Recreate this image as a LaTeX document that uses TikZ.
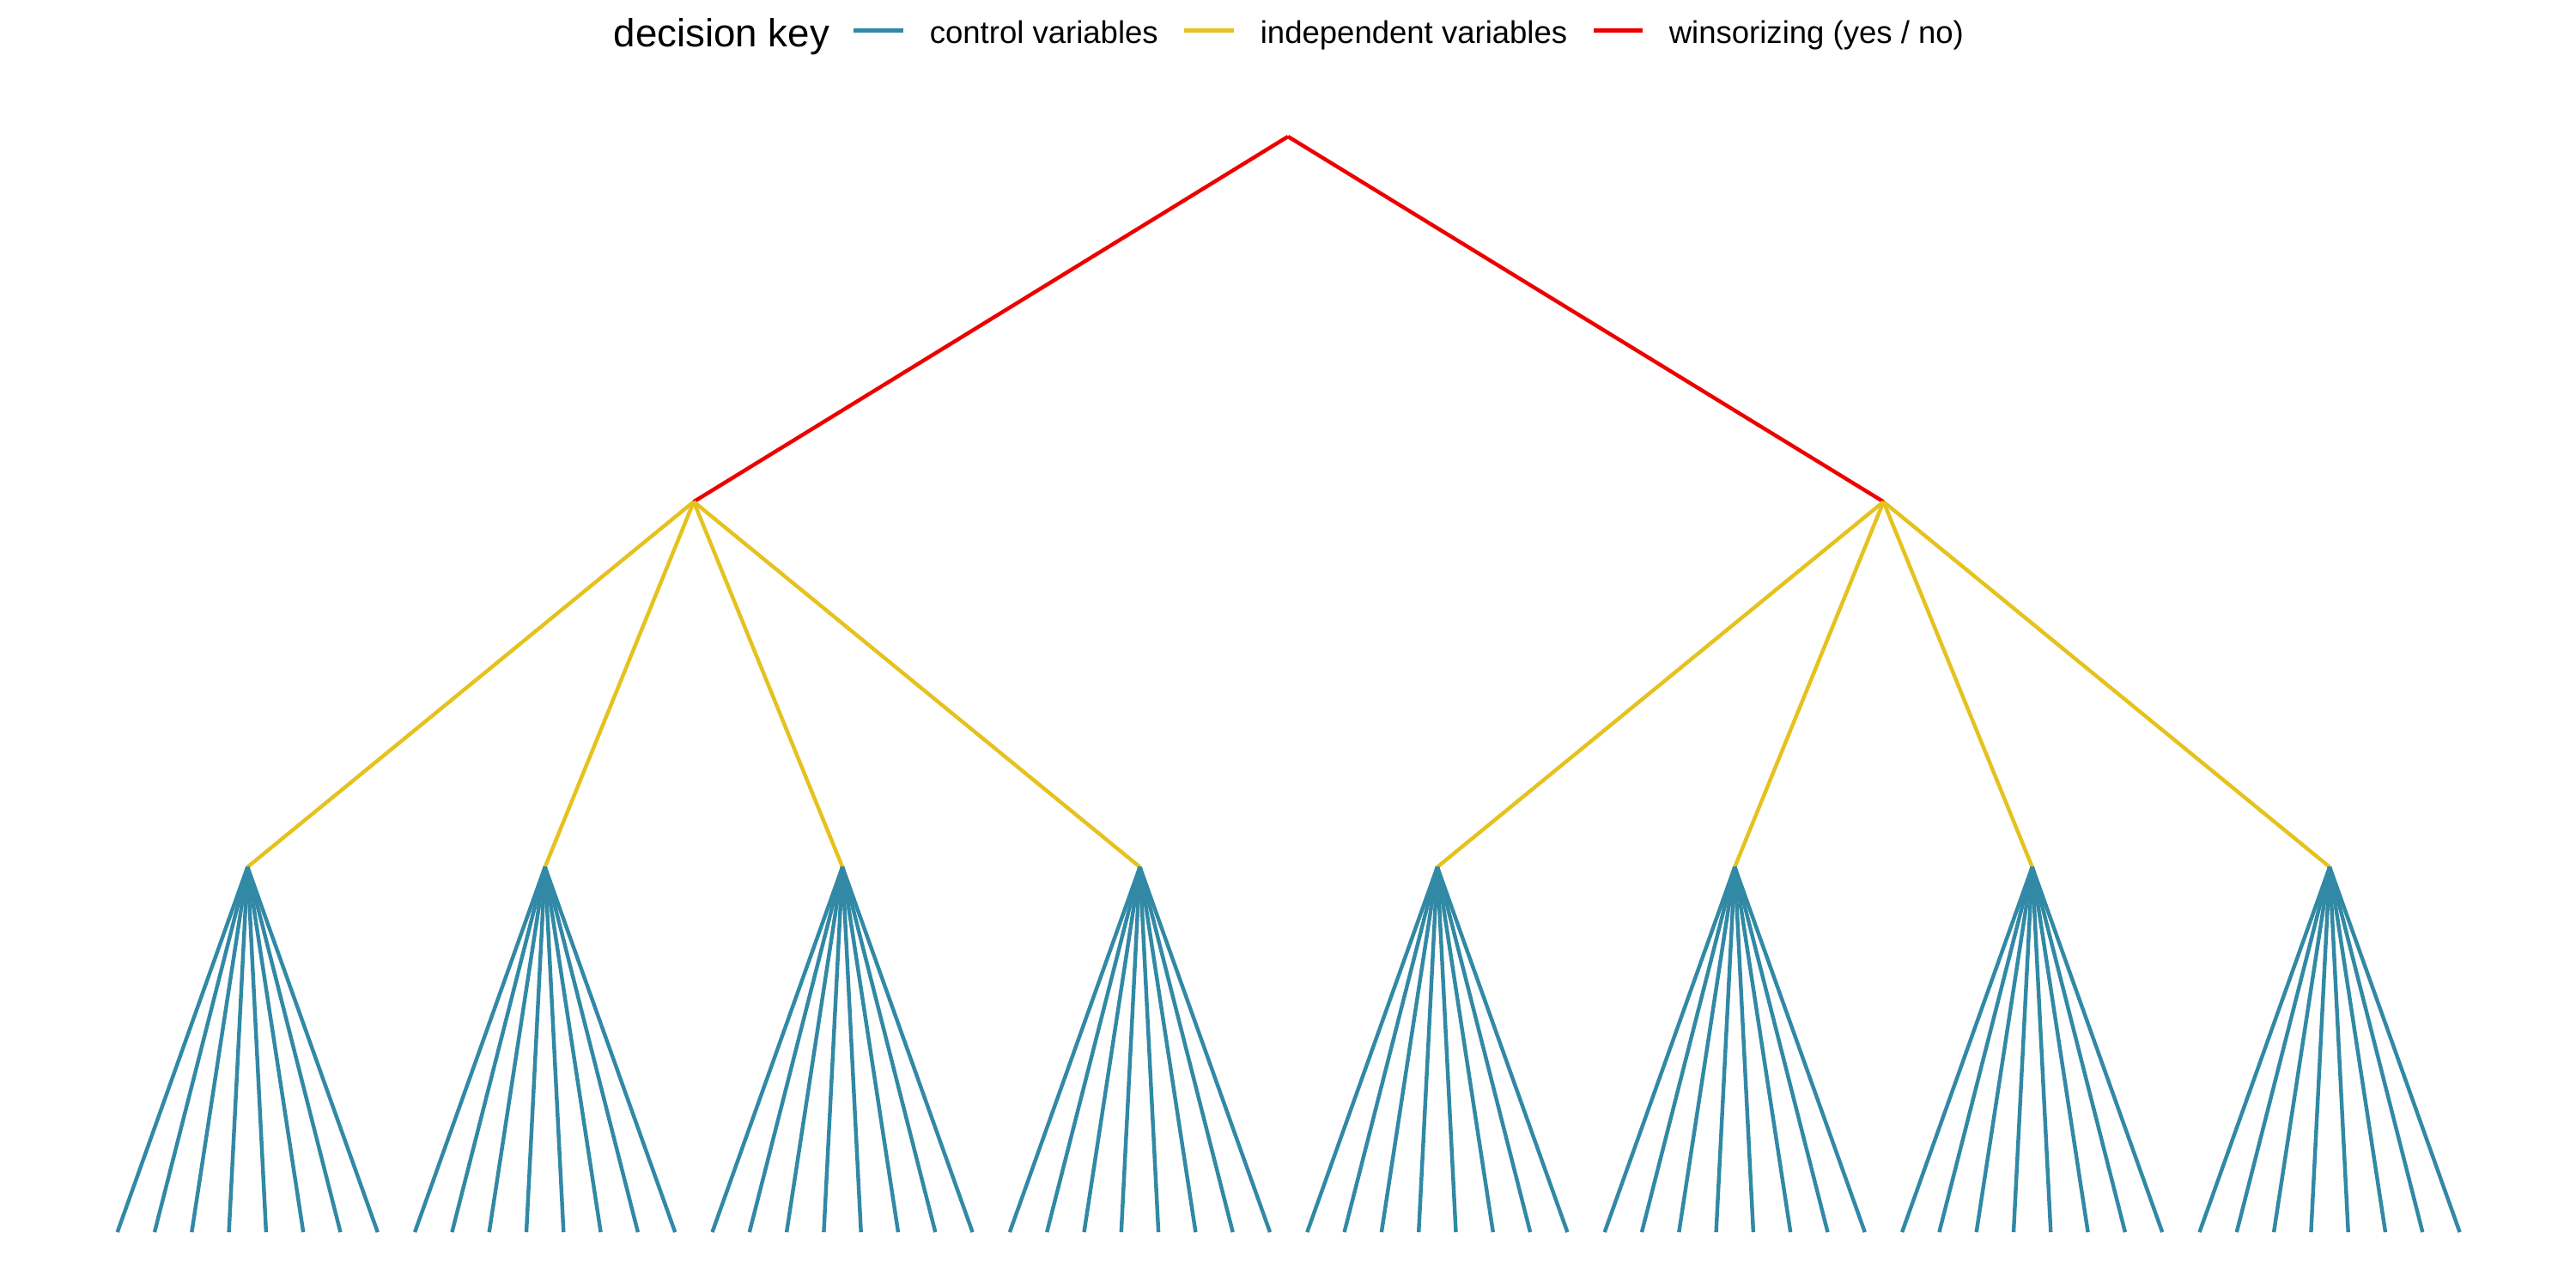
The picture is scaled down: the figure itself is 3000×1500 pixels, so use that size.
\documentclass[tikz,border=0pt]{standalone}
\usepackage{fontspec}
\setmainfont{Liberation Sans}
\definecolor{ctrlcol}{HTML}{3189A5}
\definecolor{indepcol}{HTML}{E5C21E}
\definecolor{wincol}{HTML}{EE0000}
\tikzset{
  edgebase/.style={line width=1.07pt, line cap=butt},
  ctrledge/.style={edgebase, draw=ctrlcol},
  indepedge/.style={edgebase, draw=indepcol},
  winedge/.style={edgebase, draw=wincol},
  keytitle/.style={anchor=base west, inner sep=0pt, font=\fontsize{11}{13}\selectfont},
  keylabel/.style={anchor=base west, inner sep=0pt, font=\fontsize{8.8}{10.5}\selectfont},
}
\begin{document}
\begin{tikzpicture}[x=0.24090pt, y=-0.24090pt]
\useasboundingbox (0,0) rectangle (3000,1500);
% tree coordinates
\coordinate (r) at (1500,159);
\coordinate (a0) at (807.9,584.3);
\coordinate (a1) at (2193.5,584.3);
\foreach \k in {0,...,7} {\coordinate (b\k) at ({288.3+346.4*\k},1009.7);}
\foreach \i in {0,...,63} {\coordinate (l\i) at ({136.7+43.3*\i},1435);}
% edges
\draw[winedge] (r) -- (a0);
\draw[winedge] (r) -- (a1);
\foreach \k in {0,...,7} {
  \pgfmathtruncatemacro{\p}{int(\k/4)}
  \draw[indepedge] (a\p) -- (b\k);
}
\foreach \i in {0,...,63} {
  \pgfmathtruncatemacro{\g}{int(\i/8)}
  \draw[ctrledge] (b\g) -- (l\i);
}
% legend
\node[keytitle] (kt) at (714,54) {decision key};
\coordinate (k1a) at (994,35.5); \coordinate (k1b) at (1052,35.5);
\coordinate (k2a) at (1379,35.5); \coordinate (k2b) at (1437,35.5);
\coordinate (k3a) at (1856,35.5); \coordinate (k3b) at (1913,35.5);
\draw[ctrledge] (k1a) -- (k1b);
\draw[indepedge] (k2a) -- (k2b);
\draw[winedge] (k3a) -- (k3b);
\node[keylabel] (kl1) at (1082,50) {control variables};
\node[keylabel] (kl2) at (1467,50) {independent variables};
\node[keylabel] (kl3) at (1943,50) {winsorizing (yes / no)};
\end{tikzpicture}
\end{document}
